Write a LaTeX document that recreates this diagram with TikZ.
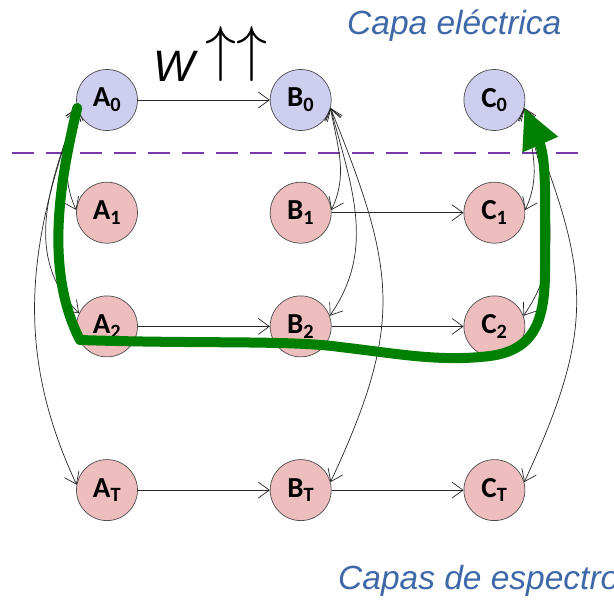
\documentclass[tikz,border=0pt]{standalone}
\usepackage{fontspec}
\usepackage{xcolor}
\usepackage{tikz}
\usetikzlibrary{arrows.meta,positioning}
\newfontfamily\labelfont{Carlito}
\newfontfamily\layerfont{Liberation Sans}
\definecolor{elecblue}{RGB}{206,206,238}
\definecolor{specpink}{RGB}{238,190,190}
\definecolor{layerpurple}{RGB}{120,56,168}
\definecolor{layertext}{RGB}{62,104,168}
\definecolor{routegreen}{RGB}{0,128,0}
\newcommand{\st}[2]{#1\textsubscript{#2}}
\newcommand{\bigup}{\raisebox{12pt}{\scalebox{6.2}{\fontsize{10}{10}\selectfont$\uparrow$}}}
\tikzset{
  statenode/.style={
    circle,draw=black!70,line width=0.7pt,minimum size=61pt,inner sep=0pt,
    font=\labelfont\bfseries\fontsize{29}{29}\selectfont
  },
  elecstate/.style={statenode,fill=elecblue},
  specstate/.style={statenode,fill=specpink},
  link/.style={-{Straight Barb[length=11pt,width=16pt]},line width=0.7pt,draw=black!85},
  twoway/.style={{Straight Barb[length=11pt,width=16pt]}-{Straight Barb[length=11pt,width=16pt]},
    line width=0.7pt,draw=black!85},
  route/.style={-{Triangle[length=40pt,width=36pt]},line width=10pt,draw=routegreen,
    line join=round,line cap=round},
  layerline/.style={draw=layerpurple,line width=2.2pt,dash pattern=on 22pt off 12pt},
  layerlabel/.style={font=\layerfont\itshape\fontsize{33.5}{33.5}\selectfont,text=layertext,inner sep=0pt}
}
\begin{document}
\begin{tikzpicture}[x=1pt,y=1pt,node distance=51pt and 132pt]
  \useasboundingbox (0,0) rectangle (614,-601);
  % electrical layer
  \node[elecstate] (a0) at (107,-100) {\st{A}{0}};
  \node[elecstate,right=of a0] (b0) {\st{B}{0}};
  \node[elecstate,right=of b0] (c0) {\st{C}{0}};
  % spectrum layers
  \node[specstate,below=of a0] (a1) {\st{A}{1}};
  \node[specstate,right=of a1] (b1) {\st{B}{1}};
  \node[specstate,right=of b1] (c1) {\st{C}{1}};
  \node[specstate,below=52pt of a1] (a2) {\st{A}{2}};
  \node[specstate,right=of a2] (b2) {\st{B}{2}};
  \node[specstate,right=of b2] (c2) {\st{C}{2}};
  \node[specstate,below=102pt of a2] (aT) {\st{A}{T}};
  \node[specstate,right=of aT] (bT) {\st{B}{T}};
  \node[specstate,right=of bT] (cT) {\st{C}{T}};
  \node[layerlabel,anchor=base west] (elec) at (347,-35) {Capa eléctrica};
  \node[layerlabel,anchor=base west] (spec) at (338,-590) {Capas de espectro};
  \node[anchor=base west,inner sep=0pt,font=\layerfont\fontsize{44}{44}\selectfont] (w) at (153,-82)
    {\textit{W}\,\bigup\bigup};
  \draw[layerline] (12,-153) -- (588,-153);
  % links along each layer
  \draw[link] (a0) -- (b0);
  \draw[link] (b1) -- (c1);
  \draw[link] (a2) -- (b2);
  \draw[link] (b2) -- (c2);
  \draw[link] (aT) -- (bT);
  \draw[link] (bT) -- (cT);
  % links between layers
  \draw[twoway] (a0.195) to[out=260,in=115] (a1.175);
  \draw[twoway] (a0.195) to[out=250,in=135] (a2.155);
  \draw[twoway] (a0.195) to[out=250,in=115] (aT.170);
  \draw[twoway] (b0.345) to[out=-80,in=65] (b1.5);
  \draw[twoway] (b0.345) to[out=-75,in=55] (b2.20);
  \draw[twoway] (b0.345) to[out=-68,in=65,looseness=1.2] (bT.15);
  \draw[twoway] (c0.345) to[out=-80,in=65] (c1.5);
  \draw[twoway] (c0.345) to[out=-75,in=55] (c2.20);
  \draw[twoway] (c0.345) to[out=-68,in=65,looseness=1.2] (cT.15);
  % route
  \draw[route] (a0.195) .. controls (60,-180) and (44,-270) .. (80,-340)
    .. controls (200,-344) and (290,-340) .. (340,-347)
    .. controls (400,-354) and (440,-362) .. (490,-356)
    .. controls (535,-350) and (545,-320) .. (545,-270)
    .. controls (545,-210) and (547,-160) .. (c0.345);
\end{tikzpicture}
\end{document}
